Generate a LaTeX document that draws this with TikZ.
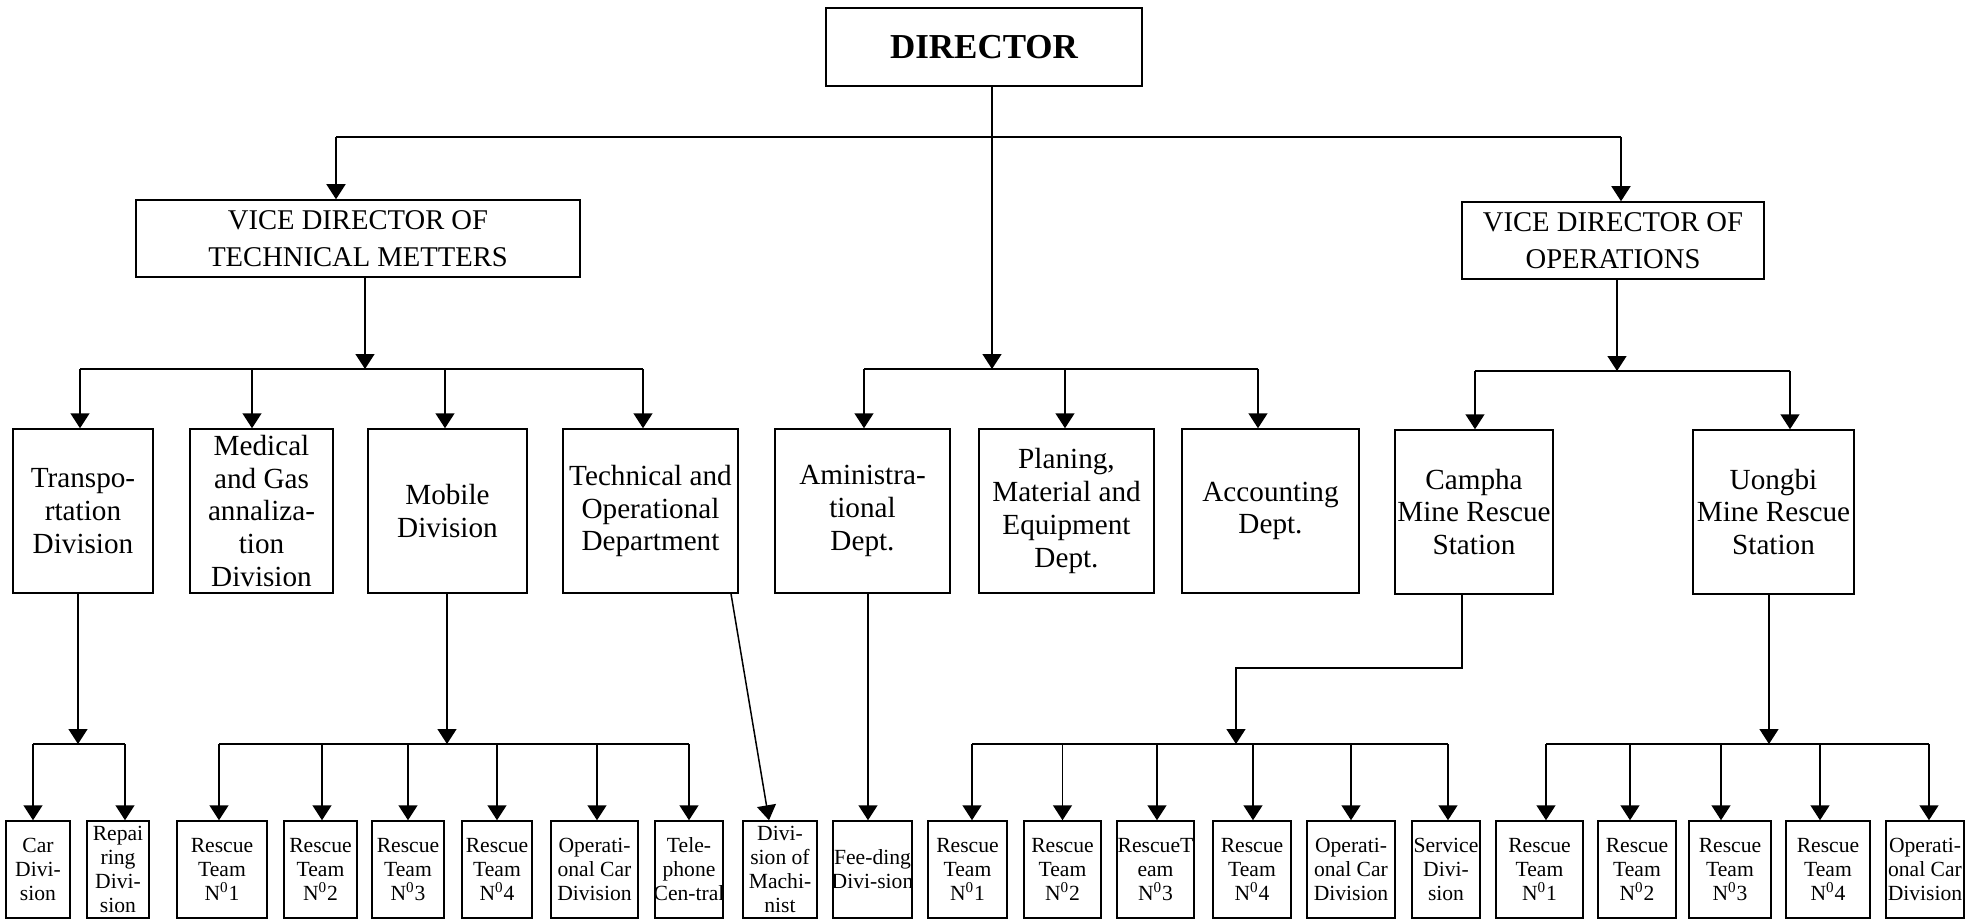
\documentclass[tikz,border=0pt]{standalone}
\usepackage{fontspec}
\setmainfont{Liberation Serif}
\usetikzlibrary{arrows.meta}
% zero-width line, so long words never widen a box
\newcommand\zw[1]{\makebox[0pt]{#1}}
\newcommand\nr[1]{N\textsuperscript{0}#1}
% arrow dropping from a bus line onto the top of a box
\newcommand\dropto[3]{\path (#1.north) ++(#2,0) coordinate (#1-in);
  \draw[arr] (#1-in |- #3) -- (#1-in);}

\begin{document}
\begin{tikzpicture}[x=0.5pt,y=-0.5pt,line width=0.75pt,
  arr/.style={-{Triangle[length=7.5pt,width=9.5pt]}},
  box/.style={draw,inner sep=1pt,align=center},
  w/.style={minimum width=#1*0.5pt},
  vd/.style={box,minimum height=77*0.5pt,font=\fontsize{14.3}{18.3}\selectfont},
  dept/.style={box,minimum height=164*0.5pt,font=\fontsize{14.6}{16.4}\selectfont},
  unit/.style={box,minimum height=97*0.5pt,font=\fontsize{10.8}{12}\selectfont}]
\useasboundingbox (0,0) rectangle (1977,920);

% top levels
\node[box,w=316,minimum height=78*0.5pt,font=\bfseries\fontsize{17.5}{20}\selectfont]
  (dir) at (984,47) {DIRECTOR};
\node[vd,w=444] (vdt) at (358,238.5) {VICE DIRECTOR OF\\TECHNICAL METTERS};
\node[vd,w=302] (vdo) at (1613,240.5) {VICE DIRECTOR OF\\OPERATIONS};

% departments
\node[dept,w=140] (trans) at (83,511) {Transpo-\\rtation\\Division};
\node[dept,w=143] (med) at (261.5,511) {Medical\\and Gas\\annaliza-\\tion\\Division};
\node[dept,w=159] (mob) at (447.5,511) {Mobile\\Division};
\node[dept,w=175] (tech) at (650.5,511) {\zw{Technical and}\\Operational\\Department};
\node[dept,w=175] (admin) at (862.5,511) {Aministra-\\tional\\Dept.};
\node[dept,w=175] (plan) at (1066.5,511) {Planing,\\Material and\\Equipment\\Dept.};
\node[dept,w=177] (acc) at (1270.5,511) {Accounting\\Dept.};
\node[dept,w=158] (cam) at (1474,512) {Campha\\\zw{Mine Rescue}\\Station};
\node[dept,w=161] (uon) at (1773.5,512) {Uongbi\\\zw{Mine Rescue}\\Station};

% units
\node[unit,w=64] (car) at (38,869.5) {Car\\Divi-\\sion};
\node[unit,w=62] (rep) at (118,869.5) {Repai\\ring\\Divi-\\sion};
\node[unit,w=90] (m1) at (222,869.5) {Rescue\\Team\\\nr1};
\node[unit,w=73] (m2) at (320.5,869.5) {Rescue\\Team\\\nr2};
\node[unit,w=72] (m3) at (408,869.5) {Rescue\\Team\\\nr3};
\node[unit,w=70] (m4) at (497,869.5) {Rescue\\Team\\\nr4};
\node[unit,w=87] (mop) at (594.5,869.5) {Operati-\\onal Car\\Division};
\node[unit,w=68] (tel) at (689,869.5) {Tele-\\phone\\\zw{Cen-tral}};
\node[unit,w=74] (mach) at (780,869.5) {Divi-\\sion of\\Machi-\\nist};
\node[unit,w=79] (feed) at (872.5,869.5) {\zw{Fee-ding}\\\zw{Divi-sion}};
\node[unit,w=79] (c1) at (967.5,869.5) {Rescue\\Team\\\nr1};
\node[unit,w=77] (c2) at (1062.5,869.5) {Rescue\\Team\\\nr2};
\node[unit,w=77] (c3) at (1155.5,869.5) {\zw{RescueT}\\eam\\\nr3};
\node[unit,w=78] (c4) at (1252,869.5) {Rescue\\Team\\\nr4};
\node[unit,w=88] (cop) at (1351,869.5) {Operati-\\onal Car\\Division};
\node[unit,w=68] (srv) at (1446,869.5) {\zw{Service}\\Divi-\\sion};
\node[unit,w=87] (u1) at (1539.5,869.5) {Rescue\\Team\\\nr1};
\node[unit,w=78] (u2) at (1637,869.5) {Rescue\\Team\\\nr2};
\node[unit,w=82] (u3) at (1730,869.5) {Rescue\\Team\\\nr3};
\node[unit,w=84] (u4) at (1828,869.5) {Rescue\\Team\\\nr4};
\node[unit,w=78] (uop) at (1925,869.5) {\zw{Operati-}\\\zw{onal Car}\\\zw{Division}};

% director to vice directors and staff departments
\coordinate (tl) at (336,137);
\coordinate (tr) at (1621,137);
\coordinate (mb) at (992,369);
\draw (tl) -- (tr);
\draw[arr] (dir.south -| mb) -- (mb);
\draw[arr] (tl) -- (tl |- vdt.north);
\draw[arr] (tr) -- (tr |- vdo.north);
\dropto{admin}{0.75pt}{mb}
\dropto{plan}{-0.75pt}{mb}
\dropto{acc}{-6.25pt}{mb}
\draw (admin-in |- mb) -- (acc-in |- mb);

% technical branch
\coordinate (lb) at (365,369);
\draw[arr] (vdt.south -| lb) -- (lb);
\dropto{trans}{-1.5pt}{lb}
\dropto{med}{-4.75pt}{lb}
\dropto{mob}{-1.25pt}{lb}
\dropto{tech}{-3.75pt}{lb}
\draw (trans-in |- lb) -- (tech-in |- lb);

% operations branch
\coordinate (rb) at (1617,371);
\draw[arr] (vdo.south -| rb) -- (rb);
\dropto{cam}{0.5pt}{rb}
\dropto{uon}{8.25pt}{rb}
\draw (cam-in |- rb) -- (uon-in |- rb);

% transportation units
\coordinate (tj) at (78,744);
\draw[arr] (trans.south -| tj) -- (tj);
\dropto{car}{-2.5pt}{tj}
\dropto{rep}{3.5pt}{tj}
\draw (car-in |- tj) -- (rep-in |- tj);

% mobile units
\coordinate (mj) at (447,744);
\draw[arr] (mob.south -| mj) -- (mj);
\dropto{m1}{-1.5pt}{mj}
\dropto{m2}{0.75pt}{mj}
\dropto{m3}{0pt}{mj}
\dropto{m4}{0pt}{mj}
\dropto{mop}{1.25pt}{mj}
\dropto{tel}{0pt}{mj}
\draw (m1-in |- mj) -- (tel-in |- mj);

% single links
\draw[arr] ([xshift=40.25pt]tech.south) -- ([xshift=-5.5pt]mach.north);
\draw[arr] ([xshift=2.75pt]admin.south) -- ([xshift=-2.25pt]feed.north);

% Campha units
\coordinate (ck) at (1462,668);
\coordinate (cj) at (1236,744);
\draw[arr] (cam.south -| ck) -- (ck) -| (cj);
\dropto{c1}{2.25pt}{cj}
\dropto{c2}{0pt}{cj}
\dropto{c3}{0.75pt}{cj}
\dropto{c4}{0.5pt}{cj}
\dropto{cop}{0pt}{cj}
\dropto{srv}{1pt}{cj}
\draw (c1-in |- cj) -- (srv-in |- cj);

% Uongbi units
\coordinate (uj) at (1769,744);
\draw[arr] (uon.south -| uj) -- (uj);
\dropto{u1}{3.25pt}{uj}
\dropto{u2}{-3.5pt}{uj}
\dropto{u3}{-4.5pt}{uj}
\dropto{u4}{-4pt}{uj}
\dropto{uop}{2pt}{uj}
\draw (u1-in |- uj) -- (uop-in |- uj);
\end{tikzpicture}
\end{document}
